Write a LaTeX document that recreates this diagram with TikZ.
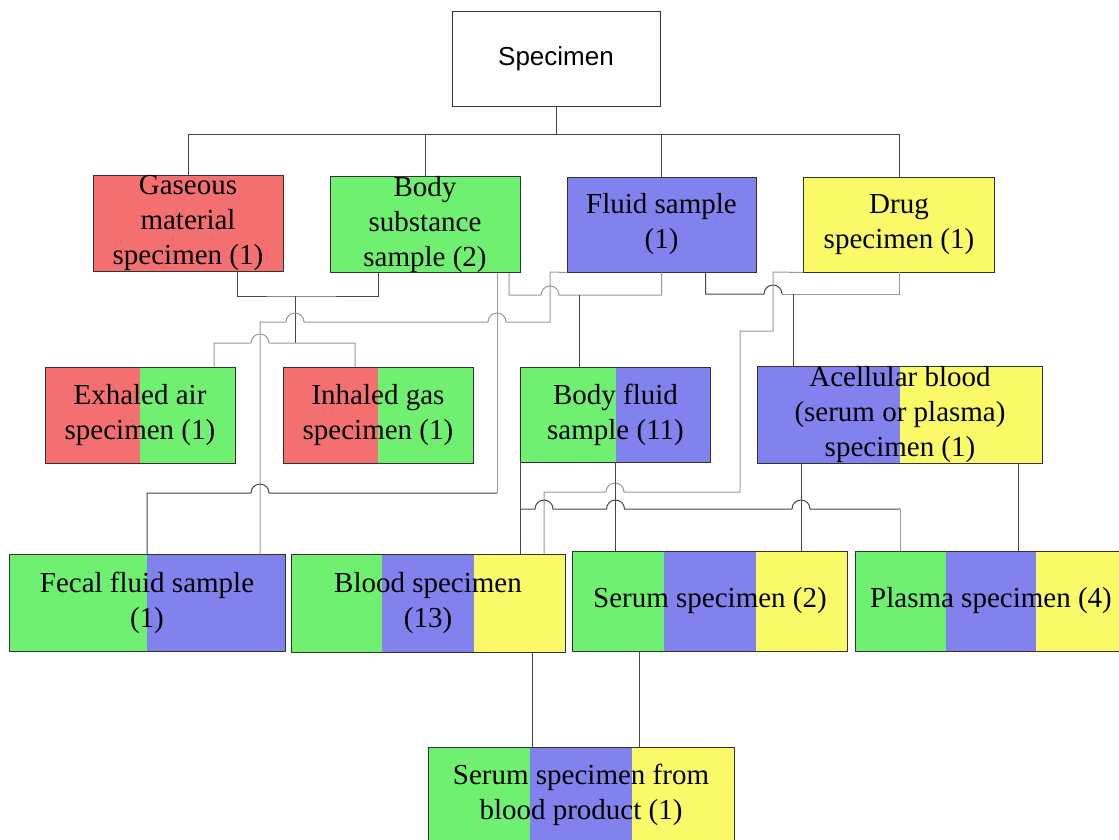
\documentclass[tikz,border=0pt]{standalone}
\usepackage{fontspec}
\setmainfont{Liberation Serif}
\newfontfamily\headfont{Liberation Sans}
\usepackage{xcolor}
\usepackage{tikz}
\usetikzlibrary{calc}

\definecolor{gasred}{RGB}{244,112,112}
\definecolor{bodygreen}{RGB}{112,240,112}
\definecolor{fluidblue}{RGB}{130,130,238}
\definecolor{drugyellow}{RGB}{250,250,104}

% little bumps where a line jumps over another one
\newcommand{\hopright}{arc[start angle=180,end angle=0,radius=9pt]}
\newcommand{\hopleft}{arc[start angle=0,end angle=180,radius=9pt]}

\tikzset{
  box/.style={draw=black!80, line width=0.9pt, inner sep=0pt, align=center,
    minimum height=96pt, font=\fontsize{29}{35}\selectfont},
  dk/.style={draw=black!72, line width=1pt},
  gy/.style={draw=black!40, line width=1pt},
  half/.style 2 args={path picture={
    \fill[#1] (path picture bounding box.south west) rectangle (path picture bounding box.north);
    \fill[#2] (path picture bounding box.south) rectangle (path picture bounding box.north east);}},
  third/.style n args={3}{path picture={
    \fill[#1] (path picture bounding box.south west) rectangle
      ($(path picture bounding box.north west)!0.333!(path picture bounding box.north east)$);
    \fill[#2] ($(path picture bounding box.south west)!0.333!(path picture bounding box.south east)$) rectangle
      ($(path picture bounding box.north west)!0.667!(path picture bounding box.north east)$);
    \fill[#3] ($(path picture bounding box.south west)!0.667!(path picture bounding box.south east)$) rectangle
      (path picture bounding box.north east);}}
}

\begin{document}
\begin{tikzpicture}[x=1pt, y=-1pt]
  \useasboundingbox (0,0) rectangle (1119,839);
  % ------- root -------
  \node[box, minimum width=208pt, minimum height=95pt, font=\headfont\fontsize{26}{30}\selectfont]
    (specimen) at (556,58.5) {Specimen};
  % ------- first row -------
  \node[box, minimum width=190pt, fill=gasred] (gas) at (188,223) {Gaseous\\material\\specimen (1)};
  \node[box, minimum width=190pt, minimum height=95pt, fill=bodygreen] (body) at (425,224.5) {Body\\substance\\sample (2)};
  \node[box, minimum width=189pt, minimum height=95pt, fill=fluidblue] (fluid) at (661.5,224.5) {Fluid sample\\(1)};
  \node[box, minimum width=191pt, minimum height=95pt, fill=drugyellow] (drug) at (899,224.5) {Drug\\specimen (1)};
  % ------- second row -------
  \node[box, minimum width=190pt, half={gasred}{bodygreen}] (exhaled) at (140,415) {Exhaled air\\specimen (1)};
  \node[box, minimum width=190pt, half={gasred}{bodygreen}] (inhaled) at (378,415.5) {Inhaled gas\\specimen (1)};
  \node[box, minimum width=190pt, minimum height=95pt, half={bodygreen}{fluidblue}] (bfluid) at (615.5,414.5) {Body fluid\\sample (11)};
  \node[box, minimum width=285pt, half={fluidblue}{drugyellow}] (acell) at (900,415) {Acellular blood\\(serum or plasma)\\specimen (1)};
  % ------- third row -------
  \node[box, minimum width=276pt, minimum height=97pt, half={bodygreen}{fluidblue}] (fecal) at (147,603) {Fecal fluid sample\\(1)};
  \node[box, minimum width=274pt, minimum height=98pt, third={bodygreen}{fluidblue}{drugyellow}] (blood) at (428,603) {Blood specimen\\(13)};
  \node[box, minimum width=275pt, minimum height=100pt, third={bodygreen}{fluidblue}{drugyellow}] (serum) at (710,601) {Serum specimen (2)};
  \node[box, minimum width=272pt, minimum height=100pt, third={bodygreen}{fluidblue}{drugyellow}] (plasma) at (991,601) {Plasma specimen (4)};
  % ------- last row -------
  \node[box, minimum width=306pt, third={bodygreen}{fluidblue}{drugyellow}] (product) at (581,795) {Serum specimen from\\blood product (1)};

  % root to first row
  \draw[dk] (specimen.south) -- ++(0,28) coordinate (bus);
  \draw[dk] (gas.north) |- (bus) -| (drug.north);
  \draw[dk] (body.north) -- (body.north |- bus);
  \draw[dk] (fluid.north) -- (fluid.north |- bus);
  % gaseous + body substance -> exhaled, inhaled
  \draw[dk] ([xshift=49pt]gas.south) |- (295,296) coordinate (gb) -| ([xshift=-47pt]body.south);
  \draw[dk] (gb) -- (295,343);
  \draw[gy] ([xshift=74pt]exhaled.north) |- (251,343) \hopright -- (355,343) -- ([xshift=-23pt]inhaled.north);
  % fluid sample -> fecal
  \draw[gy] (fluid.south west) -- (550,272) -- (550,322) -- (506,322) \hopleft -- (304,322) \hopleft
    -- (260,322) -- ([xshift=113pt]fecal.north);
  % body substance -> fecal
  \draw[gy] ([xshift=72pt]body.south) -- (497,493);
  \draw[dk] (497,493) -- (269,493) \hopleft -| (fecal.north);
  % body substance + fluid sample -> body fluid
  \draw[gy] ([xshift=84pt]body.south) |- (541,295) \hopright -| (fluid.south);
  \draw[dk] (579,295) -- (bfluid.north -| 579,295);
  % fluid sample + drug -> acellular blood
  \draw[dk] ([xshift=44pt]fluid.south) |- (764,294) \hopright -- (782,294);
  \draw[gy] (782,294) -| (drug.south);
  \draw[dk] (793,294) -- (acell.north -| 793,294);
  % drug -> blood
  \draw[gy] (drug.south west) -- (773,272) -- (773,331) -- (740,331) -- (740,492) -- (624,492) \hopleft
    -- (544,492) -- ([xshift=116pt]blood.north);
  % body fluid -> blood, serum, plasma
  \draw[dk] (bfluid.south west) -- (bfluid.south west |- blood.north);
  \draw[dk] (bfluid.south) -- (bfluid.south |- serum.north);
  \draw[dk] (520.5,509) -- (535,509) \hopright -- (606.5,509) \hopright -- (792,509) \hopright -- (900,509);
  \draw[gy] (900,509) -- ([xshift=-91pt]plasma.north);
  % acellular blood -> serum, plasma
  \draw[dk] ([xshift=-99pt]acell.south) -- ([xshift=-99pt]acell.south |- serum.north);
  \draw[dk] ([xshift=118pt]acell.south) -- ([xshift=118pt]acell.south |- plasma.north);
  % blood, serum -> serum from blood product
  \draw[dk] ([xshift=104pt]blood.south) -- ([xshift=104pt]blood.south |- product.north);
  \draw[dk] ([xshift=-71pt]serum.south) -- ([xshift=-71pt]serum.south |- product.north);
\end{tikzpicture}
\end{document}
